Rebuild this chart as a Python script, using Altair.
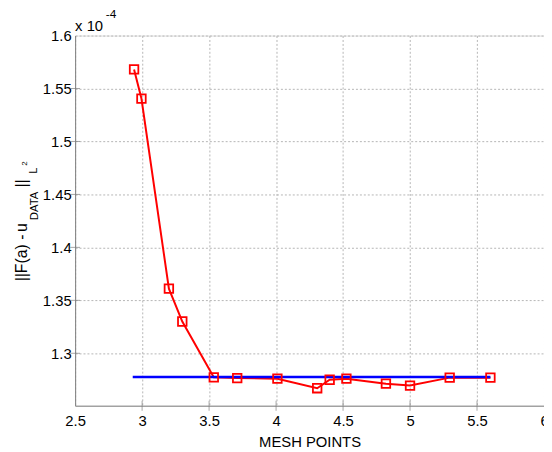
import altair as alt
import pandas as pd

mesh_x = [2.94, 2.995, 3.20, 3.30, 3.535, 3.71, 4.01, 4.307, 4.40, 4.525, 4.82, 5.0, 5.296, 5.60]
err_y = [1.568, 1.5405, 1.361, 1.330, 1.2773, 1.2766, 1.276, 1.267, 1.275, 1.276, 1.2713, 1.2695, 1.277, 1.277]
ref_x = [2.93, 5.60]
ref_y = [1.2776, 1.2776]
x_ticks = [2.5, 3, 3.5, 4, 4.5, 5, 5.5, 6]
y_ticks = [1.3, 1.35, 1.4, 1.45, 1.5, 1.55, 1.6]

FONT = "Liberation Sans"
W, H = 475, 375

df = pd.DataFrame({"x": mesh_x, "y": err_y})
dref = pd.DataFrame({"x": ref_x, "y": ref_y})
dxt = pd.DataFrame({"t": x_ticks[1:-1]})
dyt = pd.DataFrame({"t": y_ticks[:-1]})

xs = alt.Scale(domain=[2.5, 6], nice=False, zero=False)
ys = alt.Scale(domain=[1.2505, 1.6], nice=False, zero=False)

xax = alt.Axis(values=x_ticks, format="~g", title="MESH POINTS", grid=True, gridDash=[2, 2],
               gridColor="#b5b5b5", domainColor="#808080", ticks=False,
               labelFont=FONT, labelFontSize=15, labelColor="black", labelPadding=8,
               titleFont=FONT, titleFontSize=15, titleFontWeight="normal",
               titleColor="black", titlePadding=6, labelFlush=False)
yax = alt.Axis(values=y_ticks, format="~g", title=None, grid=True, gridDash=[2, 2],
               gridColor="#b5b5b5", domainColor="#808080", ticks=False,
               labelFont=FONT, labelFontSize=15, labelColor="black", labelPadding=4,
               labelFlush=False)

base = alt.Chart(df)

red_line = base.mark_line(color="#ff0000", strokeWidth=2).encode(
    x=alt.X("x:Q", scale=xs, axis=xax),
    y=alt.Y("y:Q", scale=ys, axis=yax),
)
red_pts = base.mark_point(shape="square", color="#ff0000", filled=False,
                          size=75, strokeWidth=1.8, opacity=1).encode(
    x=alt.X("x:Q", scale=xs), y=alt.Y("y:Q", scale=ys))

blue = alt.Chart(dref).mark_line(color="#0000ff", strokeWidth=2.5).encode(
    x=alt.X("x:Q", scale=xs), y=alt.Y("y:Q", scale=ys))

xticks = alt.Chart(dxt).mark_tick(orient="vertical", size=10, thickness=1, color="#808080").encode(
    x=alt.X("t:Q", scale=xs), y=alt.value(H))
yticks = alt.Chart(dyt).mark_tick(orient="horizontal", size=10, thickness=1, color="#808080").encode(
    y=alt.Y("t:Q", scale=ys), x=alt.value(0))

def txt(s, x, y, size, angle=0, align="left"):
    return alt.Chart(pd.DataFrame({"a": [0]})).mark_text(
        text=s, font=FONT, fontSize=size, color="black", angle=angle,
        align=align, baseline="alphabetic").encode(x=alt.value(x), y=alt.value(y))

labels = [
    txt("||F(a)", -49, 249, 16, angle=270),
    txt("-", -49, 207, 16, angle=270),
    txt("u", -49, 199, 16, angle=270),
    txt("DATA", -38, 187, 11.5, angle=270),
    txt("||", -49, 154, 16, angle=270),
    txt("L", -39, 140, 11, angle=270),
    txt("2", -49, 132, 8, angle=270),
    txt("x 10", 0, -5, 15),
    txt("-4", 31, -18, 12),
]

chart = alt.layer(red_line, blue, red_pts, xticks, yticks, *labels).properties(
    width=W, height=H,
    autosize=alt.AutoSizeParams(type="none"),
    padding={"left": 68, "top": 25, "right": 0, "bottom": 44},
).configure_view(stroke=None).configure(background="white")

chart.save("out.html", embed_options={"renderer": "svg", "actions": False})
